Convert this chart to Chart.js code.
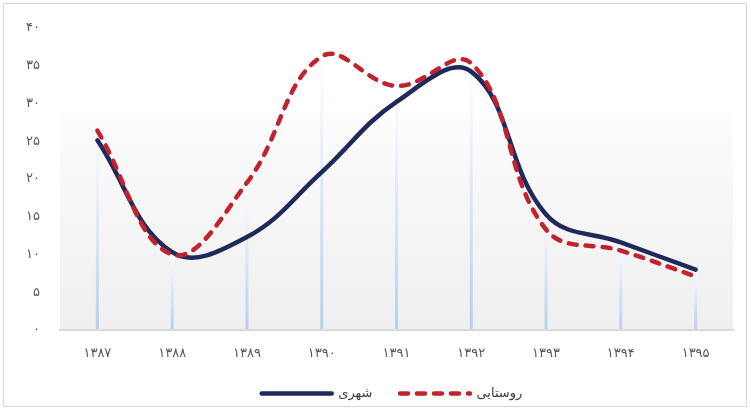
<!DOCTYPE html>
<html>
<head>
<meta charset="utf-8">
<script src="https://cdn.jsdelivr.net/npm/chart.js@4.4.1/dist/chart.umd.min.js"></script>
<style>
  html, body { margin: 0; padding: 0; background: #fff; }
  #wrap { width: 751px; height: 411px; position: relative; }
</style>
</head>
<body>
<div id="wrap"><canvas id="chart"></canvas></div>
<script>
const years = ["۱۳۸۷", "۱۳۸۸", "۱۳۸۹", "۱۳۹۰", "۱۳۹۱", "۱۳۹۲", "۱۳۹۳", "۱۳۹۴", "۱۳۹۵"];
const urban = [25.1, 10.3, 12.3, 20.9, 30.2, 34.2, 15.3, 11.6, 8.0];
const rural = [26.4, 10.0, 19.5, 36.2, 32.3, 35.3, 13.3, 10.5, 7.1];
const yTickLabels = ["۰", "۵", "۱۰", "۱۵", "۲۰", "۲۵", "۳۰", "۳۵", "۴۰"];

const FONT = "'DejaVu Sans', sans-serif";

// outer frame + shaded plot band + light blue drop lines
const backdrop = {
  id: "backdrop",
  afterLayout(chart) {
    // nudge the legend to the right, like the original
    chart.legend.left += 26;
  },
  beforeDraw(chart) {
    const ctx = chart.ctx;
    const a = chart.chartArea;
    ctx.save();
    ctx.strokeStyle = "#d9d9d9";
    ctx.lineWidth = 1;
    ctx.strokeRect(3.5, 3.5, 743, 403);

    const bandTop = 118;
    const g = ctx.createLinearGradient(0, bandTop, 0, a.bottom);
    g.addColorStop(0, "#fcfcfd");
    g.addColorStop(1, "#efefef");
    ctx.fillStyle = g;
    ctx.fillRect(a.left, bandTop, a.right - a.left, a.bottom - bandTop);

    const metas = chart.data.datasets.map((d, i) => chart.getDatasetMeta(i));
    const n = chart.data.labels.length;
    for (let i = 0; i < n; i++) {
      const x = metas[0].data[i].x;
      const top = Math.min(...metas.map(m => m.data[i].y));
      const lg = ctx.createLinearGradient(0, top, 0, a.bottom);
      lg.addColorStop(0, "rgba(255,255,255,0.95)");
      lg.addColorStop(1, "#b3d0ec");
      ctx.strokeStyle = lg;
      ctx.lineWidth = 3;
      ctx.beginPath();
      ctx.moveTo(x, top);
      ctx.lineTo(x, a.bottom);
      ctx.stroke();
    }
    ctx.restore();
  }
};

new Chart(document.getElementById("chart").getContext("2d"), {
  type: "line",
  plugins: [backdrop],
  data: {
    labels: years,
    datasets: [
      {
        label: "روستایی",
        data: rural,
        borderColor: "#c0232d",
        backgroundColor: "#c0232d",
        borderWidth: 4.5,
        borderDash: [8, 9],
        borderCapStyle: "round",
        borderJoinStyle: "round",
        tension: 0.4,
        pointRadius: 0,
        fill: false,
      },
      {
        label: "شهری",
        data: urban,
        borderColor: "#1f2a5c",
        backgroundColor: "#1f2a5c",
        borderWidth: 4.5,
        borderCapStyle: "round",
        borderJoinStyle: "round",
        tension: 0.4,
        pointRadius: 0,
        fill: false,
      },
    ],
  },
  options: {
    responsive: true,
    maintainAspectRatio: false,
    animation: false,
    layout: {
      padding: { left: 25, right: 18, top: 26, bottom: 1 },
    },
    scales: {
      x: {
        offset: true,
        grid: { display: false, drawTicks: false },
        border: { display: true, color: "#d9d9d9", width: 2 },
        ticks: { padding: 16, color: "#595959", font: { family: FONT, size: 13 } },
        afterFit(scale) { scale.height = 49; },
      },
      y: {
        min: 0,
        max: 40,
        grid: { display: false, drawTicks: false },
        border: { display: false },
        ticks: {
          stepSize: 5,
          padding: 20,
          color: "#595959",
          font: { family: FONT, size: 13 },
          callback: (v) => yTickLabels[v / 5],
        },
        afterFit(scale) { scale.width = 35; },
      },
    },
    plugins: {
      tooltip: { enabled: false },
      legend: {
        position: "bottom",
        labels: {
          usePointStyle: true,
          pointStyle: "line",
          pointStyleWidth: 70,
          padding: 8,
          color: "#404040",
          font: { family: FONT, size: 13 },
          generateLabels(chart) {
            const items = Chart.defaults.plugins.legend.labels.generateLabels(chart);
            items.forEach((it) => {
              const ds = chart.data.datasets[it.datasetIndex];
              it.lineWidth = 4.5;
              it.lineDash = ds.borderDash || [];
              it.lineCap = "round";
              it.strokeStyle = ds.borderColor;
            });
            items.reverse();
            items[0].text = items[0].text + "\u2003\u2002";
            return items;
          },
        },
      },
    },
  },
});
</script>
</body>
</html>
